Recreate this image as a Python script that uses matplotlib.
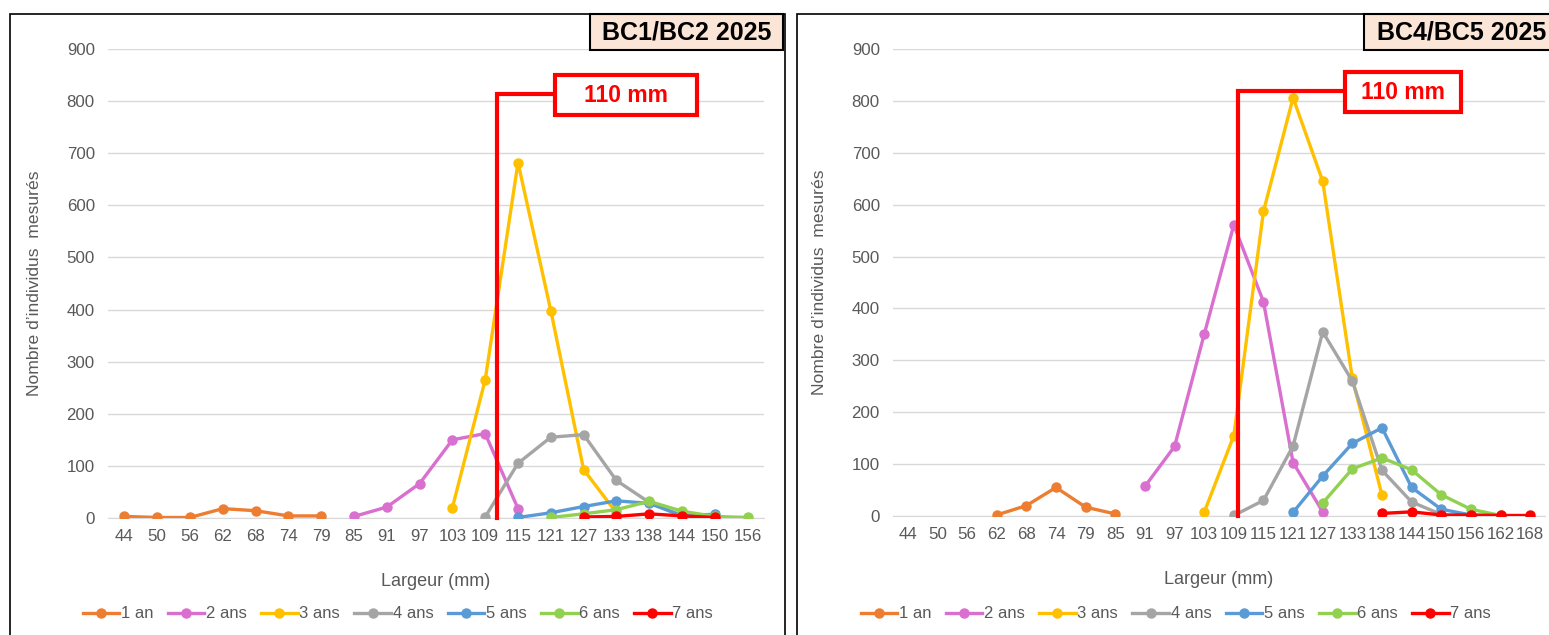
import numpy as np
import matplotlib.pyplot as plt
from matplotlib.patches import Rectangle

# Data: BC1/BC2 2025
left_cats = [44, 50, 56, 62, 68, 74, 79, 85, 91, 97, 103, 109, 115, 121, 127, 133, 138, 144, 150, 156]
N = None
left_1an = [3, 1, 1, 18, 14, 4, 4, N, N, N, N, N, N, N, N, N, N, N, N, N]
left_2ans = [N, N, N, N, N, N, N, 3, 21, 66, 150, 162, 18, N, N, N, N, N, N, N]
left_3ans = [N, N, N, N, N, N, N, N, N, N, 20, 265, 682, 398, 93, 10, N, N, N, N]
left_4ans = [N, N, N, N, N, N, N, N, N, N, N, 2, 105, 155, 160, 72, 30, 3, N, N]
left_5ans = [N, N, N, N, N, N, N, N, N, N, N, N, 1, 10, 22, 33, 28, 5, 7, N]
left_6ans = [N, N, N, N, N, N, N, N, N, N, N, N, N, 1, 8, 16, 32, 13, 3, 1]
left_7ans = [N, N, N, N, N, N, N, N, N, N, N, N, N, N, 2, 3, 8, 4, 1, N]

# Data: BC4/BC5 2025
right_cats = [44, 50, 56, 62, 68, 74, 79, 85, 91, 97, 103, 109, 115, 121, 127, 133, 138, 144, 150, 156, 162, 168]
right_1an = [N, N, N, 2, 20, 55, 17, 4, N, N, N, N, N, N, N, N, N, N, N, N, N, N]
right_2ans = [N, N, N, N, N, N, N, N, 57, 134, 350, 561, 413, 103, 8, N, N, N, N, N, N, N]
right_3ans = [N, N, N, N, N, N, N, N, N, N, 7, 155, 587, 806, 645, 265, 40, N, N, N, N, N]
right_4ans = [N, N, N, N, N, N, N, N, N, N, N, 1, 30, 135, 355, 260, 88, 27, 3, N, N, N]
right_5ans = [N, N, N, N, N, N, N, N, N, N, N, N, N, 7, 77, 140, 170, 55, 13, 2, N, N]
right_6ans = [N, N, N, N, N, N, N, N, N, N, N, N, N, N, 25, 91, 112, 89, 41, 13, 1, N]
right_7ans = [N, N, N, N, N, N, N, N, N, N, N, N, N, N, N, N, 5, 8, 2, 2, 1, 1]

labels = ["1 an", "2 ans", "3 ans", "4 ans", "5 ans", "6 ans", "7 ans"]
colors = ["#ED7D31", "#D96FCF", "#FFC000", "#A5A5A5", "#5B9BD5", "#92D050", "#FF0000"]

plt.rcParams["font.family"] = ["Liberation Sans", "DejaVu Sans"]

W, H = 1549, 635
fig = plt.figure(figsize=(W / 100, H / 100), dpi=100)


def box(l, t, r, b):
    # pixel box -> figure fraction [left, bottom, width, height]
    return [l / W, 1 - b / H, (r - l) / W, (b - t) / H]


def panel(rect_px, ax_px, cats, series, title, title_px, line_x, line_top, tag_box, legend_cx):
    # panel frame
    l, t, r, b = rect_px
    fig.add_artist(Rectangle((l / W, 1 - b / H), (r - l) / W, (b - t) / H,
                             transform=fig.transFigure, fill=False,
                             edgecolor="black", lw=1.2))
    ax = fig.add_axes(box(*ax_px))
    x = np.arange(len(cats))
    for vals, lab, c in zip(series, labels, colors):
        y = np.array([np.nan if v is None else v for v in vals], dtype=float)
        ax.plot(x, y, color=c, lw=2.4, marker="o", ms=6.5, label=lab, zorder=3)
    ax.set_xlim(-0.5, len(cats) - 0.5)
    ax.set_ylim(0, 900)
    ax.set_yticks(range(0, 901, 100))
    ax.set_xticks(x)
    ax.set_xticklabels([str(c) for c in cats])
    ax.grid(axis="y", color="#D9D9D9", lw=1)
    ax.set_axisbelow(True)
    for s in ["top", "right", "left"]:
        ax.spines[s].set_visible(False)
    ax.spines["bottom"].set_color("#D9D9D9")
    ax.tick_params(length=0, labelsize=12.2, colors="#595959", pad=8)
    ax.tick_params(axis="y", pad=9.5)
    ax.set_xlabel("Largeur (mm)", fontsize=13, color="#595959", labelpad=21)
    ax.set_ylabel("Nombre d\u2019individus  mesurés", fontsize=12.6, color="#595959", labelpad=18)

    # 110 mm marker
    ax.plot([line_x, line_x, tag_box[0]], [0, line_top, line_top], color="#FF0000",
            lw=3, clip_on=False, zorder=5, solid_joinstyle="miter")
    bx0, by0, bx1, by1 = tag_box
    ax.add_patch(Rectangle((bx0, by0), bx1 - bx0, by1 - by0, fill=True, facecolor="white",
                           edgecolor="#FF0000", lw=3, clip_on=False, zorder=5))
    ax.text((bx0 + bx1) / 2, (by0 + by1) / 2, "110 mm", color="#FF0000", fontsize=16.5,
            fontweight="bold", ha="center", va="center", zorder=6)

    # title box
    tl, tt, tr, tb = title_px
    fig.add_artist(Rectangle((tl / W, 1 - tb / H), (tr - tl) / W, (tb - tt) / H,
                             transform=fig.transFigure, facecolor="#FBE5D6",
                             edgecolor="black", lw=1.5))
    fig.text((tl + tr) / 2 / W, 1 - (tt + tb) / 2 / H, title, fontsize=18,
             fontweight="bold", ha="center", va="center")

    ax.legend(loc="center", bbox_to_anchor=(legend_cx / W, 1 - 614 / H),
              bbox_transform=fig.transFigure, ncol=7, frameon=False, fontsize=12,
              handlelength=2.2, handletextpad=0.1, columnspacing=0.85,
              labelcolor="#595959")
    return ax


panel((10, 14, 785, 640), (108, 49, 764, 518), left_cats,
      [left_1an, left_2ans, left_3ans, left_4ans, left_5ans, left_6ans, left_7ans],
      "BC1/BC2 2025", (590, 14, 783, 50), 11.36, 814, (13.13, 773, 17.46, 850), 398)
panel((797, 14, 1560, 640), (893, 49, 1545, 516), right_cats,
      [right_1an, right_2ans, right_3ans, right_4ans, right_5ans, right_6ans, right_7ans],
      "BC4/BC5 2025", (1364, 14, 1560, 50), 11.14, 819, (14.75, 778, 18.66, 856), 1176)

fig.savefig("out.png", dpi=100)
